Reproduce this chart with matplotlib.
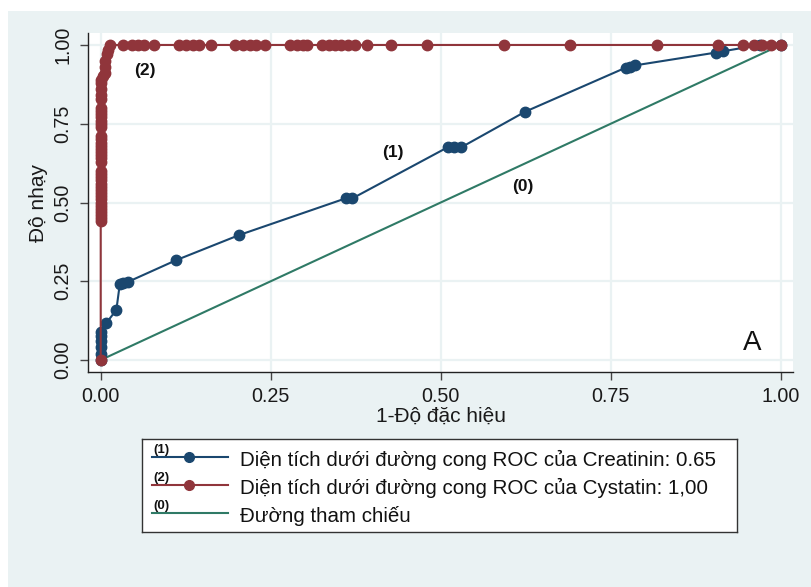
import numpy as np
import matplotlib.pyplot as plt
from matplotlib.patches import Rectangle

# -> ROC points (1 - specificity, sensitivity)
creat_fpr = [0.0, 0.0, 0.0, 0.0, 0.0, 0.0, 0.008, 0.023, 0.028, 0.033, 0.04,
             0.111, 0.204, 0.36, 0.37, 0.51, 0.52, 0.53, 0.624,
             0.772, 0.779, 0.785, 0.905, 0.915, 0.969, 1.0]
creat_tpr = [0.0, 0.02, 0.04, 0.06, 0.075, 0.09, 0.117, 0.159, 0.24, 0.245, 0.248,
             0.317, 0.397, 0.513, 0.513, 0.675, 0.675, 0.675, 0.788,
             0.928, 0.931, 0.935, 0.976, 0.98, 1.0, 1.0]

cys_fpr_low = [0.0] * 38
cys_tpr_low = [0.0, 0.44, 0.45, 0.46, 0.47, 0.48, 0.49, 0.50, 0.51, 0.52, 0.53,
               0.54, 0.55, 0.56, 0.57, 0.58, 0.59, 0.60, 0.63, 0.64, 0.65, 0.66,
               0.67, 0.68, 0.69, 0.70, 0.71, 0.74, 0.75, 0.76, 0.77, 0.78, 0.79,
               0.80, 0.83, 0.84, 0.86, 0.88]
cys_fpr_knee = [0.0, 0.004, 0.007, 0.007, 0.007, 0.009, 0.011]
cys_tpr_knee = [0.89, 0.90, 0.91, 0.93, 0.95, 0.97, 0.984]
cys_fpr_top = [0.014, 0.033, 0.046, 0.055, 0.064, 0.078, 0.115, 0.125, 0.135,
               0.145, 0.162, 0.198, 0.209, 0.219, 0.228, 0.241, 0.278, 0.288,
               0.298, 0.304, 0.325, 0.335, 0.345, 0.354, 0.364, 0.374, 0.391,
               0.427, 0.480, 0.593, 0.690, 0.818, 0.908, 0.945, 0.960, 0.972,
               0.986, 1.0]
cys_tpr_top = [1.0] * len(cys_fpr_top)

ref_x = [0.0, 1.0]
ref_y = [0.0, 1.0]

tick_vals = [0.0, 0.25, 0.5, 0.75, 1.0]
tick_labels = ["0.00", "0.25", "0.50", "0.75", "1.00"]

legend_labels = ["Diện tích dưới đường cong ROC của Creatinin: 0.65",
                 "Diện tích dưới đường cong ROC của Cystatin: 1,00",
                 "Đường tham chiếu"]
legend_tags = ["(1)", "(2)", "(0)"]

NAVY = "#1a476f"
MAROON = "#90353b"
TEAL = "#2f7a66"
BG = "#eaf2f3"
FONT = ["Liberation Sans", "DejaVu Sans"]

plt.rcParams['font.family'] = FONT

W, H = 811, 587
fig = plt.figure(figsize=(W / 100, H / 100), dpi=100)
fig.patch.set_facecolor("white")
fig.patches.append(Rectangle((8 / W, 0), 1 - 8 / W, 1 - 11 / H, transform=fig.transFigure,
                             facecolor=BG, edgecolor="none", zorder=-10))

def px_axes(left, top, right, bottom):
    return fig.add_axes([left / W, 1 - bottom / H, (right - left) / W, (bottom - top) / H])

ax = px_axes(88, 33, 793, 372)
ax.set_facecolor("white")
ax.set_xlim(-0.0187, 1.018)
ax.set_ylim(-0.038, 1.038)

ax.set_xticks(tick_vals)
ax.set_xticklabels(tick_labels)
ax.set_yticks(tick_vals)
ax.set_yticklabels(tick_labels, rotation=90, va="center")
ax.tick_params(direction="out", length=6, width=1, color="#444444", labelsize=14.2,
               labelcolor="#1a1a1a", pad=5)
ax.grid(True, color=BG, linewidth=1.6)
ax.set_axisbelow(True)
for s in ["top", "right"]:
    ax.spines[s].set_visible(False)
for s in ["left", "bottom"]:
    ax.spines[s].set_color("#222222")
    ax.spines[s].set_linewidth(1)

ax.set_xlabel("1-Độ đặc hiệu", fontsize=15, labelpad=0, color="#1a1a1a")
ax.set_ylabel("Độ nhạy", fontsize=15, labelpad=4, color="#1a1a1a")

# -> Curves
ax.plot(ref_x, ref_y, color=TEAL, linewidth=1.5, zorder=2)
ax.plot(creat_fpr, creat_tpr, "o-", color=NAVY, markersize=7.5, linewidth=1.5, zorder=3)
cys_fpr = cys_fpr_low + cys_fpr_knee + cys_fpr_top
cys_tpr = cys_tpr_low + cys_tpr_knee + cys_tpr_top
ax.plot(cys_fpr, cys_tpr, "o-", color=MAROON, markersize=7.5, linewidth=1.5, zorder=4)

ann = dict(fontsize=12.5, fontweight="bold", color="#111111", ha="center", va="center")
ax.text(0.065, 0.92, "(2)", **ann)
ax.text(0.43, 0.66, "(1)", **ann)
ax.text(0.62, 0.552, "(0)", **ann)
ax.text(0.958, 0.055, "A", fontsize=20, color="#111111", ha="center", va="center")

# -> Legend box drawn by hand
lax = px_axes(142, 439, 737, 532)
lax.set_xlim(0, 595)
lax.set_ylim(93, 0)
lax.set_xticks([])
lax.set_yticks([])
lax.set_facecolor("white")
for s in lax.spines.values():
    s.set_color("#333333")
    s.set_linewidth(1)

row_y = [18, 46, 74]
styles = [(NAVY, "o"), (MAROON, "o"), (TEAL, None)]
for yy, (col, mk), lab, tag in zip(row_y, styles, legend_labels, legend_tags):
    lax.plot([10, 86], [yy, yy], color=col, linewidth=1.5)
    if mk:
        lax.plot([47], [yy], marker=mk, color=col, markersize=7)
    lax.text(11, yy - 1.5, tag, fontsize=9.5, fontweight="bold", color="#111111", va="bottom")
    lax.text(98, yy + 3, lab, fontsize=14.8, color="#111111", va="center")

fig.savefig("out.png", dpi=100)
